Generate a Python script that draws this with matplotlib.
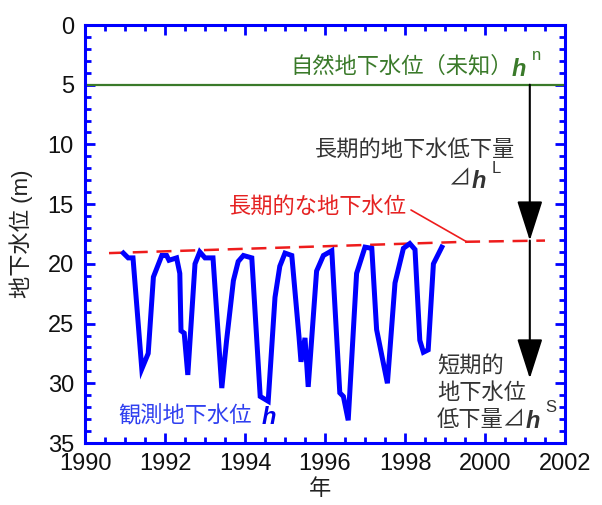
import matplotlib
matplotlib.use("Agg")
import matplotlib.pyplot as plt
from matplotlib.ticker import MultipleLocator

plt.rcParams['font.family'] = ['Liberation Sans', 'Noto Sans CJK JP']

# observed groundwater level (depth, m)
obs_year = [1990.96, 1991.08, 1991.2, 1991.42, 1991.58, 1991.71, 1991.92, 1992.04, 1992.1,
            1992.29, 1992.37, 1992.4, 1992.48, 1992.57, 1992.75, 1992.87, 1993.0, 1993.2,
            1993.42, 1993.54, 1993.71, 1993.83, 1993.96, 1994.17, 1994.38, 1994.58, 1994.75,
            1994.87, 1995.0, 1995.17, 1995.35, 1995.4, 1995.5, 1995.58, 1995.79, 1995.96,
            1996.17, 1996.37, 1996.46, 1996.58, 1996.79, 1997.0, 1997.17, 1997.29, 1997.56,
            1997.75, 1997.96, 1998.12, 1998.25, 1998.37, 1998.46, 1998.58, 1998.71, 1998.92]
obs_depth = [19.1, 19.5, 19.5, 28.8, 27.5, 21.1, 19.3, 19.3, 19.7,
             19.5, 20.8, 25.6, 25.8, 29.3, 20.0, 19.0, 19.5, 19.5,
             30.4, 26.4, 21.4, 19.8, 19.3, 19.5, 31.1, 31.5, 22.8,
             20.2, 19.1, 19.3, 26.1, 28.2, 26.2, 30.3, 20.6, 19.3,
             18.9, 30.8, 31.1, 33.1, 20.8, 18.6, 18.7, 25.5, 30.0,
             21.6, 18.7, 18.3, 18.8, 26.4, 27.4, 27.2, 20.0, 18.6]

# long-term groundwater level
trend_year = [1990.6, 1999.54, 2001.5]
trend_depth = [19.1, 18.15, 18.05]

# natural groundwater level (unknown)
natural_depth = 5.0

arrow_year = 2001.12
short_bottom = 29.6

W, H = 602, 505
fig = plt.figure(figsize=(W / 100, H / 100), dpi=100)
ax = fig.add_axes([85 / W, 1 - 443 / H, 480 / W, 418 / H])


def put(x, y, s, **kw):
    fig.text(x / W, 1 - y / H, s, ha='left', va='center', **kw)


ax.axhline(natural_depth, color='#3a7a2a', lw=1.6)
ax.plot(trend_year, trend_depth, color='#ee1c1c', lw=1.8, dashes=(6, 3.5))
ax.plot(obs_year, obs_depth, color='#0000ff', lw=3.6, solid_joinstyle='miter')

arrow = dict(arrowstyle='-|>,head_length=1.25,head_width=0.4', color='black',
             lw=1.5, shrinkA=0, shrinkB=0, mutation_scale=20)
ax.annotate('', xy=(arrow_year, trend_depth[-1]), xytext=(arrow_year, natural_depth),
            arrowprops=arrow)
ax.annotate('', xy=(arrow_year, short_bottom), xytext=(arrow_year, trend_depth[-1]),
            arrowprops=arrow)
# pointer from label to the trend line
ax.annotate('', xy=(trend_year[1], trend_depth[1]), xytext=(411, H - 210),
            textcoords='figure pixels',
            arrowprops=dict(arrowstyle='-', color='#ee1c1c', lw=1.2, shrinkA=0, shrinkB=0))

ax.set_xlim(1990, 2002)
ax.set_ylim(35, 0)
ax.xaxis.set_major_locator(MultipleLocator(2))
ax.xaxis.set_minor_locator(MultipleLocator(0.5))
ax.yaxis.set_major_locator(MultipleLocator(5))
ax.yaxis.set_minor_locator(MultipleLocator(1))
for sp in ax.spines.values():
    sp.set_color('#0000ff')
    sp.set_linewidth(2.2)
ax.tick_params(which='both', direction='in', color='#0000ff', width=2.0,
               top=True, right=True, labelsize=17, labelcolor='#111111')
ax.tick_params(which='major', length=7.5)
ax.tick_params(which='minor', length=4.5)
ax.tick_params(axis='y', pad=8)
ax.tick_params(axis='x', pad=7)

ax.set_ylabel('地下水位 (m)', fontsize=16, color='#222222')
ax.yaxis.set_label_coords(-0.108, 0.5)
ax.set_xlabel('年', fontsize=16, color='#222222')
ax.xaxis.set_label_coords(0.49, -0.086)

green = '#3a7a2a'
put(290, 67, '自然地下水位（未知）', fontsize=16, color=green)
put(512, 69, 'h', fontsize=17, color=green, weight='bold', style='italic')
put(532, 56, 'n', fontsize=12, color=green)

dark = '#333333'
put(315, 150, '長期的地下水低下量', fontsize=16, color=dark)
put(449, 180, '⊿', fontsize=16, color=dark)
put(472, 181, 'h', fontsize=17, color=dark, weight='bold', style='italic')
put(492, 168, 'L', fontsize=12, color=dark)

put(229, 207, '長期的な地下水位', fontsize=16, color='#e52222')

put(118, 416, '観測地下水位', fontsize=16, color='#3040f0')
put(262, 418, 'h', fontsize=17, color='#0000ee', weight='bold', style='italic')

put(437, 367, '短期的', fontsize=16, color=dark)
put(437, 393, '地下水位', fontsize=16, color=dark)
put(437, 420, '低下量⊿', fontsize=16, color=dark)
put(526, 421, 'h', fontsize=17, color=dark, weight='bold', style='italic')
put(545, 407, 'S', fontsize=12, color=dark)

fig.savefig('out.png', dpi=100)
